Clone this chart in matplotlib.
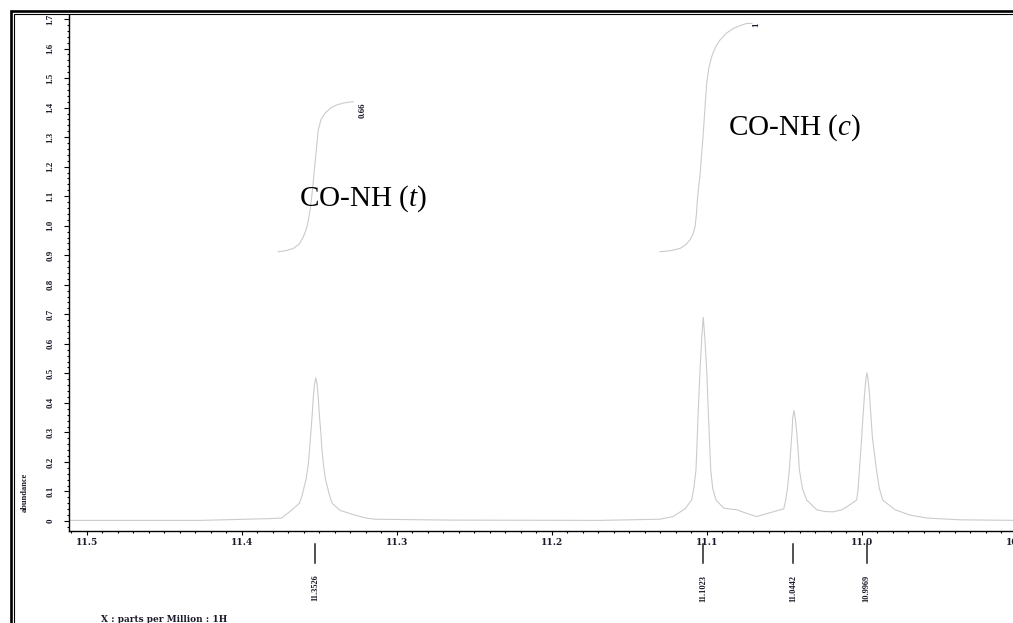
import matplotlib
matplotlib.use("Agg")
import matplotlib.pyplot as plt
from matplotlib.patches import Rectangle
from matplotlib.ticker import FixedLocator, MultipleLocator

# =========================
# DATA
# =========================
ppm = [11.5116, 11.4271, 11.3819,
       # peak 11.3526
       11.3744, 11.3677, 11.3630, 11.3615, 11.3587, 11.3572, 11.3563, 11.3555,
       11.3547, 11.3540, 11.3533, 11.3524, 11.3515, 11.3508, 11.3501, 11.3492,
       11.3485, 11.3475, 11.3461, 11.3432, 11.3418, 11.3368, 11.3320, 11.3271,
       11.3200, 11.3142, 11.2658, 11.1690, 11.1303,
       # peak 11.1023
       11.1219, 11.1142, 11.1099, 11.1085, 11.1071, 11.1058, 11.1045, 11.1034,
       11.1024, 11.1014, 11.1002, 11.0990, 11.0976, 11.0963, 11.0942, 11.0890,
       11.0808, 11.0740, 11.0679,
       # peak 11.0442
       11.0581, 11.0505, 11.0492, 11.0481, 11.0469, 11.0460, 11.0451, 11.0447,
       11.0439, 11.0431, 11.0422, 11.0412, 11.0404, 11.0384, 11.0357, 11.0292,
       11.0240, 11.0185, 11.0130,
       # peak 10.9969
       11.0090, 11.0034, 11.0025, 11.0017, 11.0002, 10.9993, 10.9984, 10.9975,
       10.9968, 10.9961, 10.9951, 10.9943, 10.9933, 10.9906, 10.9888, 10.9866,
       10.9787, 10.9690, 10.9582, 10.9368, 10.9000]
abundance = [0.002, 0.002, 0.008,
             0.010, 0.038, 0.060, 0.081, 0.140, 0.193, 0.250, 0.305,
             0.360, 0.417, 0.460, 0.485, 0.460, 0.417, 0.360, 0.305,
             0.250, 0.193, 0.140, 0.081, 0.060, 0.036, 0.028, 0.020,
             0.010, 0.006, 0.003, 0.002, 0.006,
             0.015, 0.041, 0.071, 0.110, 0.173, 0.350, 0.511, 0.620,
             0.690, 0.620, 0.511, 0.350, 0.173, 0.110, 0.071, 0.043,
             0.038, 0.025, 0.015,
             0.030, 0.041, 0.071, 0.110, 0.173, 0.240, 0.305, 0.350,
             0.374, 0.350, 0.305, 0.240, 0.173, 0.110, 0.071, 0.038,
             0.032, 0.031, 0.038,
             0.051, 0.071, 0.110, 0.170, 0.284, 0.360, 0.427, 0.480,
             0.502, 0.480, 0.427, 0.360, 0.284, 0.170, 0.110, 0.071,
             0.038, 0.020, 0.010, 0.004, 0.002]

# integral curves
int_t_ppm = [11.3766, 11.3720, 11.3669, 11.3630, 11.3604, 11.3585, 11.3572,
             11.3560, 11.3550, 11.3540, 11.3529, 11.3518, 11.3508, 11.3490,
             11.3464, 11.3430, 11.3389, 11.3340, 11.3282]
int_t_val = [0.912, 0.915, 0.923, 0.938, 0.963, 0.988, 1.019,
             1.055, 1.098, 1.150, 1.211, 1.270, 1.324, 1.360,
             1.381, 1.398, 1.409, 1.416, 1.420]

int_c_ppm = [11.1303, 11.1240, 11.1174, 11.1140, 11.1110, 11.1090, 11.1077,
             11.1068, 11.1062, 11.1054, 11.1045, 11.1035, 11.1024, 11.1013,
             11.1002, 11.0988, 11.0970, 11.0945, 11.0916, 11.0875, 11.0830,
             11.0785, 11.0744, 11.0710]
int_c_val = [0.912, 0.915, 0.923, 0.934, 0.952, 0.972, 0.997,
             1.040, 1.087, 1.130, 1.172, 1.240, 1.313, 1.400,
             1.482, 1.535, 1.572, 1.605, 1.629, 1.652, 1.668,
             1.678, 1.685, 1.685]

integral_labels = ["0.66", "1"]
integral_label_ppm = [11.3219, 11.0684]
integral_label_val = [1.392, 1.680]

peak_ppm = [11.3526, 11.1023, 11.0442, 10.9969]
peak_labels = ["11.3526", "11.1023", "11.0442", "10.9969"]

x_ticks = [11.5, 11.4, 11.3, 11.2, 11.1, 11.0, 10.9]
y_ticks = [i / 10 for i in range(18)]

# =========================
# STYLE
# =========================
plt.rcParams["mathtext.fontset"] = "custom"
plt.rcParams["mathtext.rm"] = "Liberation Serif"
plt.rcParams["mathtext.it"] = "Liberation Serif:italic"

LINE = "#cbcbcb"
INK = "#1a1a2a"
W, H = 1013, 623

fig = plt.figure(figsize=(W / 100, H / 100), dpi=100)
ax = fig.add_axes([69 / W, 92 / H, 948 / W, 516 / H])

ax.plot(ppm, abundance, color=LINE, lw=0.8)
ax.plot(int_t_ppm, int_t_val, color=LINE, lw=0.8)
ax.plot(int_c_ppm, int_c_val, color=LINE, lw=0.8)

ax.set_xlim(11.5116, 10.9)
ax.set_ylim(-0.0339, 1.7136)

for s in ["top", "right"]:
    ax.spines[s].set_visible(False)
for s in ["left", "bottom"]:
    ax.spines[s].set_linewidth(1.0)

ax.xaxis.set_major_locator(FixedLocator(x_ticks))
ax.xaxis.set_minor_locator(MultipleLocator(0.01))
ax.yaxis.set_major_locator(FixedLocator(y_ticks))
ax.yaxis.set_minor_locator(MultipleLocator(0.02))
ax.set_xticklabels([f"{t:.1f}" for t in x_ticks],
                   fontfamily="DejaVu Serif", fontweight="bold",
                   fontsize=6.5, color=INK)
ax.set_yticklabels(["0" if t == 0 else f"{t:.1f}" for t in y_ticks],
                   fontfamily="Liberation Serif", fontweight="bold",
                   fontsize=6.5, color=INK, rotation=90, va="center")

ax.tick_params(axis="x", which="major", length=3.2, width=0.8, pad=1.5)
ax.tick_params(axis="x", which="minor", length=1.6, width=0.8)
ax.tick_params(axis="y", which="major", length=3.6, width=0.8, pad=7)
ax.tick_params(axis="y", which="minor", length=1.8, width=0.8)

# peak markers under the axis
trans = ax.get_xaxis_transform()
for p, lab in zip(peak_ppm, peak_labels):
    ax.plot([p, p], [-0.025, -0.062], color="#222222", lw=1.1,
            transform=trans, clip_on=False)
    ax.text(p, -0.1105, lab, transform=trans, rotation=90,
            ha="center", va="center", fontsize=6,
            fontfamily="Liberation Serif", fontweight="bold", color=INK)

# integral values
for lab, xp, yv in zip(integral_labels, integral_label_ppm, integral_label_val):
    ax.text(xp, yv, lab, rotation=90, ha="center", va="center",
            fontsize=6.5, fontfamily="Liberation Serif",
            fontweight="bold", color=INK)

# assignments
ax.text(11.3632, 1.067, r"CO-NH ($\mathit{t}$)", fontsize=21,
        fontfamily="Liberation Serif", ha="left", va="baseline")
ax.text(11.0864, 1.307, r"CO-NH ($\mathit{c}$)", fontsize=21,
        fontfamily="Liberation Serif", ha="left", va="baseline")

fig.text(25 / W, 1 - 492 / H, "abundance", rotation=90, ha="center",
         va="center", fontsize=6, fontfamily="Liberation Serif",
         fontweight="bold", color=INK)
fig.text(101 / W, 1 - 619 / H, "X : parts per Million : 1H", ha="left",
         va="center", fontsize=6.5, fontfamily="DejaVu Serif",
         fontweight="bold", color=INK)

# double frame round the page
fig.add_artist(Rectangle((10.8 / W, -1), 3, 1 + 1 - 10.8 / H,
                         transform=fig.transFigure, fill=False,
                         lw=1.9, edgecolor="black", clip_on=False))
fig.add_artist(Rectangle((14.3 / W, -1), 3, 1 + 1 - 14.3 / H,
                         transform=fig.transFigure, fill=False,
                         lw=0.8, edgecolor="black", clip_on=False))

fig.savefig("out.png", dpi=100)
